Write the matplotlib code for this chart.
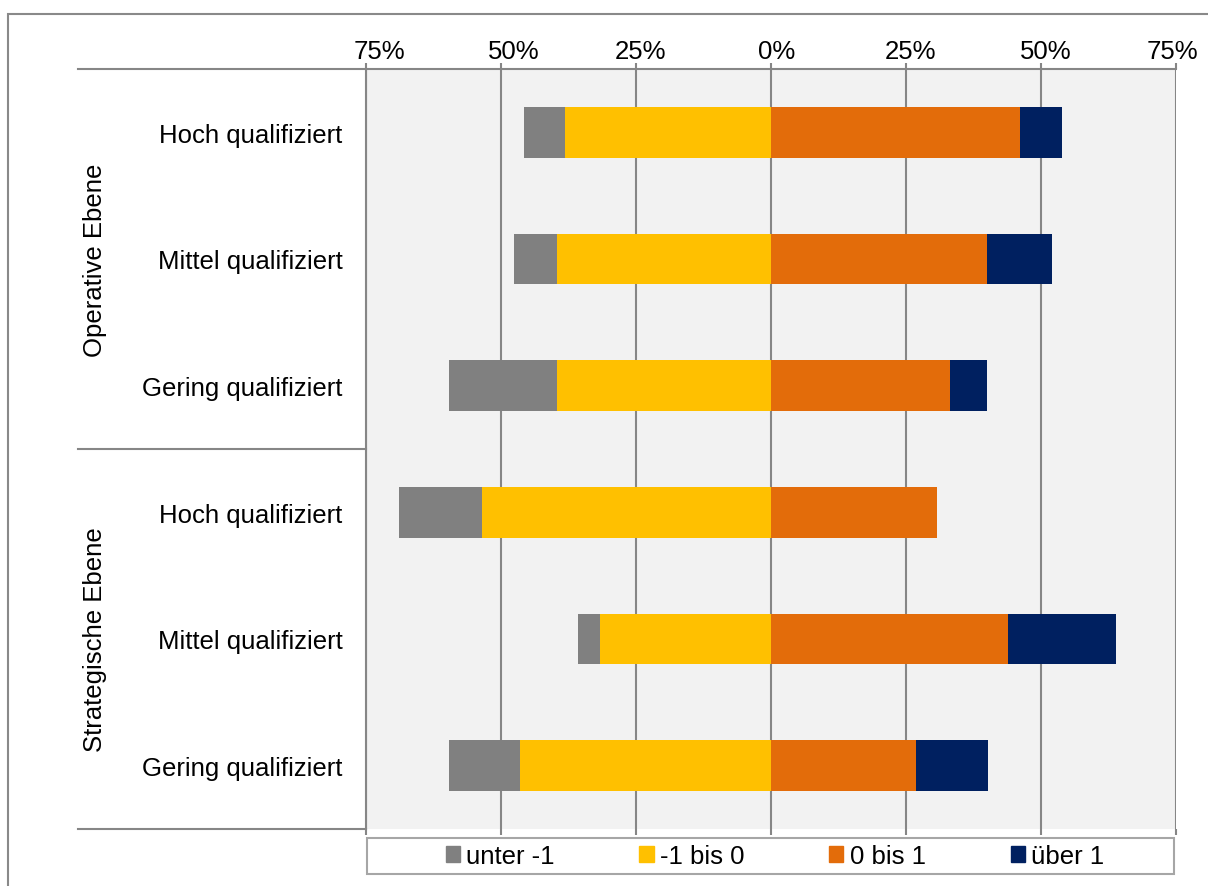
import numpy as np
import matplotlib.pyplot as plt
from matplotlib.patches import Rectangle
from matplotlib.lines import Line2D
from matplotlib.transforms import ScaledTranslation

plt.rcParams['font.family'] = ['Liberation Sans', 'DejaVu Sans']

# rows top to bottom
groups = ['Operative Ebene', 'Strategische Ebene']
rows = ['Hoch qualifiziert', 'Mittel qualifiziert', 'Gering qualifiziert',
        'Hoch qualifiziert', 'Mittel qualifiziert', 'Gering qualifiziert']
series = ['unter -1', '-1 bis 0', '0 bis 1', 'über 1']
colors = ['#808080', '#FFC000', '#E36C0A', '#002060']

# shares in %
unter_m1 = [7.6, 7.9, 19.9, 15.3, 4.1, 13.1]
m1_bis_0 = [38.2, 39.7, 39.7, 53.5, 31.7, 46.5]
null_bis_1 = [46.1, 40.0, 33.2, 30.8, 43.9, 26.8]
ueber_1 = [7.7, 12.0, 6.8, 0.0, 19.9, 13.3]

ticks = [-75, -50, -25, 0, 25, 50, 75]
fs = 18.5

fig = plt.figure(figsize=(12.08, 8.87), dpi=100)
ax = fig.add_axes([366 / 1208, 1 - 830 / 887, 810 / 1208, 760 / 887])
ax.set_facecolor('#F2F2F2')

y = np.arange(len(rows))
h = 0.4
yel = np.array(m1_bis_0)
gry = np.array(unter_m1)
org = np.array(null_bis_1)
nav = np.array(ueber_1)
ax.barh(y, -yel, height=h, color=colors[1], zorder=3)
ax.barh(y, -gry, left=-yel, height=h, color=colors[0], zorder=3)
ax.barh(y, org, height=h, color=colors[2], zorder=3)
ax.barh(y, nav, left=org, height=h, color=colors[3], zorder=3)

ax.set_xlim(-75, 75)
ax.set_ylim(len(rows) - 0.5, -0.5)
ax.set_xticks(ticks)
ax.set_xticklabels([f'{abs(t)}%' for t in ticks], fontsize=fs)
ax.xaxis.set_ticks_position('both')
ax.tick_params(axis='x', which='both', labeltop=True, labelbottom=False,
               direction='out', length=4, width=1.5, color='#868686', pad=0)
# excel puts the labels a little off centre
shifts = [13, 13, 5, 6, 5, 5, -4]
for tick, dx in zip(ax.xaxis.get_major_ticks(), shifts):
    tick.label2.set_transform(tick.label2.get_transform() +
                              ScaledTranslation(dx / 100, 0, fig.dpi_scale_trans))
ax.xaxis.grid(True, color='#868686', linewidth=1.5, zorder=1)
ax.set_axisbelow(True)

ax.set_yticks(y)
ax.set_yticklabels(rows, fontsize=fs)
ax.tick_params(axis='y', length=0, pad=17)

for s in ['right', 'bottom']:
    ax.spines[s].set_visible(False)
ax.spines['left'].set_color('#868686')
ax.spines['left'].set_linewidth(1.5)
ax.spines['top'].set_color('#868686')
ax.spines['top'].set_linewidth(1.5)

# group separators on the left
x0 = (78 - 366) / 810
for yy in [1.0, 0.5, 0.0]:
    ax.add_line(Line2D([x0, 0], [yy, yy], transform=ax.transAxes,
                       color='#868686', lw=1.5, clip_on=False))
for i, g in enumerate(groups):
    ax.text((95 - 366) / 810, 0.75 - 0.5 * i, g, transform=ax.transAxes,
            rotation=90, ha='center', va='center', fontsize=fs)

# legend frame and entries
fig.patches.append(Rectangle((367 / 1208, 1 - 875 / 887), 807 / 1208, 36 / 887,
                             transform=fig.transFigure, fill=False,
                             edgecolor='#A6A6A6', lw=1.5))
handles = [Rectangle((0, 0), 1, 1, color=c) for c in colors]
fig.legend(handles, series, loc='center', bbox_to_anchor=(775 / 1208, 1 - 857 / 887),
           ncol=4, frameon=False, fontsize=fs, handlelength=0.55, handleheight=0.55,
           handletextpad=0.25, columnspacing=3.3, borderpad=0, borderaxespad=0)

# outer border
fig.patches.append(Rectangle((8 / 1208, -0.1), 1.2, 1.1 - 15 / 887,
                             transform=fig.transFigure, fill=False,
                             edgecolor='#898989', lw=1.5))

fig.savefig('out.png', dpi=100)
